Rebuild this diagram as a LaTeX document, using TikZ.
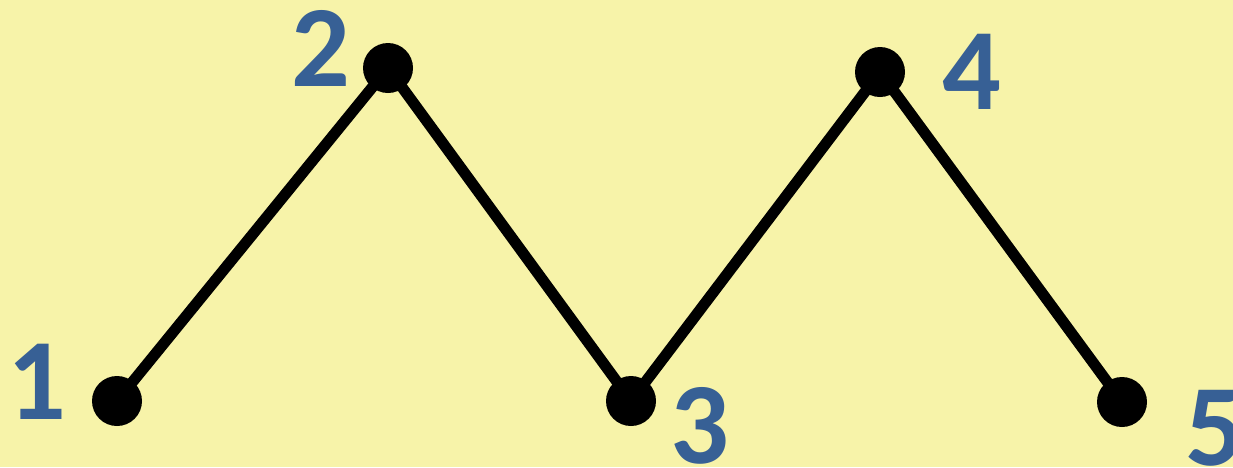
\documentclass[tikz,border=0pt]{standalone}
\usepackage{fontspec}
\setmainfont{Carlito}
\definecolor{bgyellow}{HTML}{F7F3A9}
\definecolor{numblue}{HTML}{376095}
\tikzset{
  dot/.style={circle, fill=black, minimum size=50pt, inner sep=0pt},
  num/.style={text=numblue, font=\bfseries\fontsize{116}{116}\selectfont, inner sep=0pt, anchor=base},
  link/.style={line width=11pt, black}
}
\begin{document}
\begin{tikzpicture}[x=1pt, y=-1pt]
\fill[bgyellow] (0,0) rectangle (1233,467);
\useasboundingbox (0,0) rectangle (1233,467);
\node[dot] (n1) at (117,401) {};
\node[dot] (n2) at (388,68) {};
\node[dot] (n3) at (631,401) {};
\node[dot] (n4) at (880,72) {};
\node[dot] (n5) at (1122,402) {};
\draw[link] (n1.center) -- (n2.center) -- (n3.center) -- (n4.center) -- (n5.center);
\node[num] (l1) at (36.5,419) {1};
\node[num] (l2) at (321,86) {2};
\node[num] (l3) at (700,463) {3};
\node[num] (l4) at (971.5,109) {4};
\node[num] (l5) at (1215,465) {5};
\end{tikzpicture}
\end{document}
